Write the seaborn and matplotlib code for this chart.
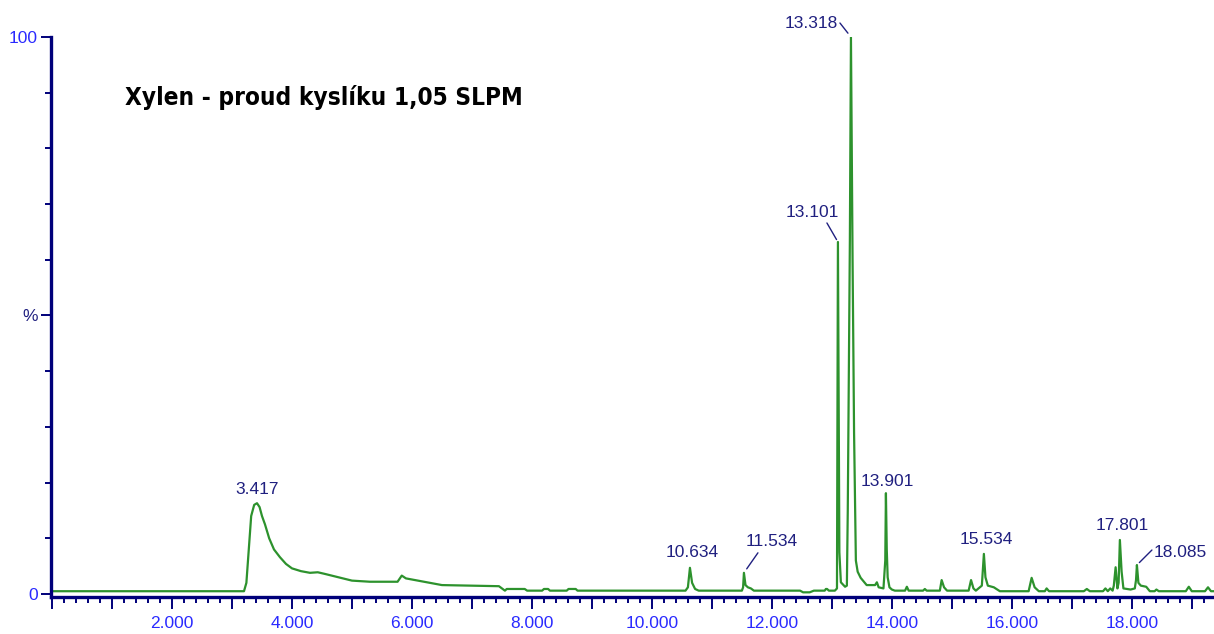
import numpy as np
import pandas as pd
import matplotlib
matplotlib.use("Agg")
import matplotlib.pyplot as plt
from matplotlib import font_manager
from matplotlib.font_manager import FontProperties
from matplotlib.ticker import MultipleLocator, FixedLocator, FuncFormatter
import seaborn as sns

# Chromatogram trace: retention time (min) and relative intensity (%)
rt = [
    0.00, 3.20, 3.24, 3.28, 3.32, 3.37, 3.417, 3.46, 3.50, 3.55, 3.62, 3.70,
    3.80, 3.90, 4.00, 4.15, 4.30, 4.43, 4.55, 4.70, 4.85, 5.00, 5.30, 5.60,
    5.76, 5.83, 5.90, 6.05, 6.20, 6.50, 7.00, 7.45, 7.55, 7.58, 7.62, 7.88,
    7.92, 8.17, 8.20, 8.27, 8.30, 8.58, 8.61, 8.73, 8.76, 10.56, 10.60, 10.634,
    10.67, 10.72, 10.78, 11.50, 11.52, 11.534, 11.56, 11.60, 11.65, 11.70, 12.47, 12.52,
    12.63, 12.70, 12.88, 12.90, 12.92, 12.95, 13.05, 13.085, 13.09, 13.101, 13.115, 13.125,
    13.15, 13.22, 13.25, 13.265, 13.30, 13.318, 13.345, 13.37, 13.40, 13.43, 13.48, 13.58,
    13.65, 13.72, 13.75, 13.78, 13.86, 13.89, 13.901, 13.915,
    13.93, 13.96, 14.00, 14.05, 14.22, 14.25, 14.28, 14.52, 14.55, 14.58, 14.80, 14.83,
    14.87, 14.92, 15.28, 15.32, 15.36, 15.40, 15.50, 15.534, 15.56, 15.60, 15.70, 15.80,
    16.28, 16.33, 16.38, 16.45, 16.55, 16.58, 16.62, 17.20, 17.25, 17.30, 17.52, 17.56,
    17.60, 17.64, 17.68, 17.70, 17.73, 17.76, 17.78, 17.801, 17.83, 17.86, 17.98, 18.05,
    18.07, 18.085, 18.11, 18.15, 18.24, 18.30, 18.38, 18.41, 18.45, 18.90, 18.95, 19.00,
    19.22, 19.27, 19.32, 19.40,
]
signal = [
    0.5, 0.5, 2.0, 8.0, 14.0, 16.0, 16.3, 15.6, 14.0, 12.5, 10.0, 8.0,
    6.6, 5.4, 4.6, 4.1, 3.8, 3.9, 3.6, 3.2, 2.8, 2.4, 2.2, 2.2,
    2.2, 3.3, 2.8, 2.5, 2.2, 1.6, 1.5, 1.4, 0.6, 0.9, 0.9, 0.9,
    0.6, 0.6, 0.9, 0.9, 0.6, 0.6, 0.9, 0.9, 0.6, 0.6, 1.2, 4.7,
    2.0, 0.9, 0.6, 0.6, 1.2, 3.8, 1.6, 1.2, 1.0, 0.6, 0.6, 0.3,
    0.3, 0.6, 0.6, 0.9, 0.9, 0.6, 0.6, 1.0, 20.5, 63.2, 30.7, 7.5,
    2.1, 1.3, 1.5, 15.0, 63.5, 100.0, 60.0, 29.0, 6.0, 4.0, 2.9, 1.6,
    1.6, 1.6, 2.1, 1.2, 1.0, 6.0, 18.1, 8.0,
    3.0, 1.2, 0.8, 0.6, 0.6, 1.3, 0.6, 0.6, 0.9, 0.6, 0.6, 2.5,
    1.2, 0.6, 0.6, 2.5, 1.0, 0.6, 1.5, 7.2, 3.0, 1.5, 1.2, 0.5,
    0.5, 2.9, 1.2, 0.5, 0.5, 1.0, 0.5, 0.5, 0.9, 0.5, 0.5, 1.0,
    0.5, 1.0, 0.6, 1.5, 4.8, 1.0, 2.0, 9.7, 4.0, 1.0, 0.8, 1.0,
    2.5, 5.2, 2.0, 1.5, 1.3, 0.5, 0.5, 0.8, 0.5, 0.5, 1.3, 0.5,
    0.5, 1.2, 0.5, 0.5,
]

# Labelled peaks
peak_labels = ["3.417", "10.634", "11.534", "13.101", "13.318",
               "13.901", "15.534", "17.801", "18.085"]

title = "Xylen - proud kyslíku 1,05 SLPM"
x_tick_labels = ["2.000", "4.000", "6.000", "8.000", "10.000",
                 "12.000", "14.000", "16.000", "18.000"]
y_tick_labels = ["0", "%", "100"]

NAVY = "#00007a"
TEXT_NAVY = "#202080"
BLUE = "#2a2aff"
GREEN = "#2d922d"

sns.set_theme(style="white")
names = {f.name for f in font_manager.fontManager.ttflist}
label_font = "Liberation Sans" if "Liberation Sans" in names else "DejaVu Sans"
plt.rcParams["font.family"] = [label_font, "DejaVu Sans"]


def narrow_bold_font():
    """Pick a condensed bold face for the heading if one is installed."""
    best = None
    for f in font_manager.fontManager.ttflist:
        fn = f.fname.lower()
        is_bold = (isinstance(f.weight, int) and f.weight >= 600) or str(f.weight) in ("bold", "heavy", "black", "semibold", "demibold")
        narrow = ("narrow" in fn) or ("condensed" in fn) or (str(f.stretch) in ("condensed", "semi-condensed", "extra-condensed"))
        if is_bold and narrow and "oblique" not in fn and "italic" not in fn:
            rank = 0 if "liberation" in fn else (1 if "dejavu" in fn else 2)
            if best is None or rank < best[0]:
                best = (rank, f.fname)
    if best is not None:
        return FontProperties(fname=best[1])
    return FontProperties(family=label_font, weight="bold")


W, H = 1214, 634
fig = plt.figure(figsize=(W / 100, H / 100), dpi=100)
fig.patch.set_facecolor("white")
ax = fig.add_axes([51 / W, 37 / H, (W - 51) / W, 560 / H])
ax.set_facecolor("white")

df = pd.DataFrame({"rt": rt, "signal": signal})
sns.lineplot(data=df, x="rt", y="signal", ax=ax, color=GREEN, lw=1.6,
             estimator=None, sort=False)

ax.set_xlim(-0.017, 19.37)
ax.set_ylim(-0.54, 100)
ax.set_xlabel("")
ax.set_ylabel("")

for side in ("top", "right"):
    ax.spines[side].set_visible(False)
for side in ("left", "bottom"):
    ax.spines[side].set_color(NAVY)
    ax.spines[side].set_linewidth(2.4)

# x axis: labelled every 2 min, medium ticks every 1 min, minor every 0.2 min
ax.xaxis.set_major_locator(MultipleLocator(1.0))
ax.xaxis.set_minor_locator(MultipleLocator(0.2))
lab_map = {int(round(float(s))): s for s in x_tick_labels}
ax.xaxis.set_major_formatter(FuncFormatter(
    lambda v, p: lab_map.get(int(round(v)), "") if abs(v - round(v)) < 1e-6 else ""))
ax.tick_params(axis="x", which="major", direction="out", length=8.5, width=1.4,
               color=NAVY, labelcolor=BLUE, labelsize=12.5, pad=5, bottom=True)
ax.tick_params(axis="x", which="minor", direction="out", length=4.5, width=1.4,
               color=NAVY, bottom=True)

# y axis: 0, %, 100 with minor ticks every 10 %
ax.yaxis.set_major_locator(FixedLocator([0, 50, 100]))
ax.yaxis.set_minor_locator(MultipleLocator(10))
ax.set_yticklabels(y_tick_labels)
ax.tick_params(axis="y", which="major", direction="out", length=7.5, width=1.4,
               color=NAVY, labelsize=12.5, pad=2, left=True)
ax.tick_params(axis="y", which="minor", direction="out", length=4, width=1.4,
               color=NAVY, left=True)
for t, c in zip(ax.get_yticklabels(), [BLUE, TEXT_NAVY, BLUE]):
    t.set_color(c)

# Peak labels: (dx, dy) offset in pixels of the label centre from the apex,
# optional leader line start offset and gap near the apex
label_offsets = {
    "3.417": ((0, 14), None),
    "10.634": ((2, 15), None),
    "11.534": ((28, 31), ((14, 20), 3.5)),
    "13.101": ((-26, 29), ((-11, 19), 2.0)),
    "13.318": ((-40, 14), ((-11, 14), 3.5)),
    "13.901": ((1, 12), None),
    "15.534": ((2, 14), None),
    "17.801": ((2, 14), None),
    "18.085": ((43, 13), ((15, 15), 2.5)),
}
for lab in peak_labels:
    x0 = float(lab)
    y0 = float(np.interp(x0, rt, signal))
    (dx, dy), leader = label_offsets[lab]
    ax.annotate(lab, xy=(x0, y0), xytext=(dx, dy), textcoords="offset pixels",
                ha="center", va="center", fontsize=12.5, color=TEXT_NAVY,
                annotation_clip=False)
    if leader is not None:
        (lx, ly), gap = leader
        ax.annotate("", xy=(x0, y0), xytext=(lx, ly), textcoords="offset pixels",
                    arrowprops=dict(arrowstyle="-", color=TEXT_NAVY, lw=1.0,
                                    shrinkA=0, shrinkB=gap),
                    annotation_clip=False)

# Heading in a condensed bold face
title_fp = narrow_bold_font()
title_fp.set_weight("bold")
title_fp.set_size(17.5)
fig.text(125 / W, 1 - 97 / H, title, fontproperties=title_fp,
         color="black", ha="left", va="center")

fig.savefig("out.png", dpi=100, facecolor="white")
